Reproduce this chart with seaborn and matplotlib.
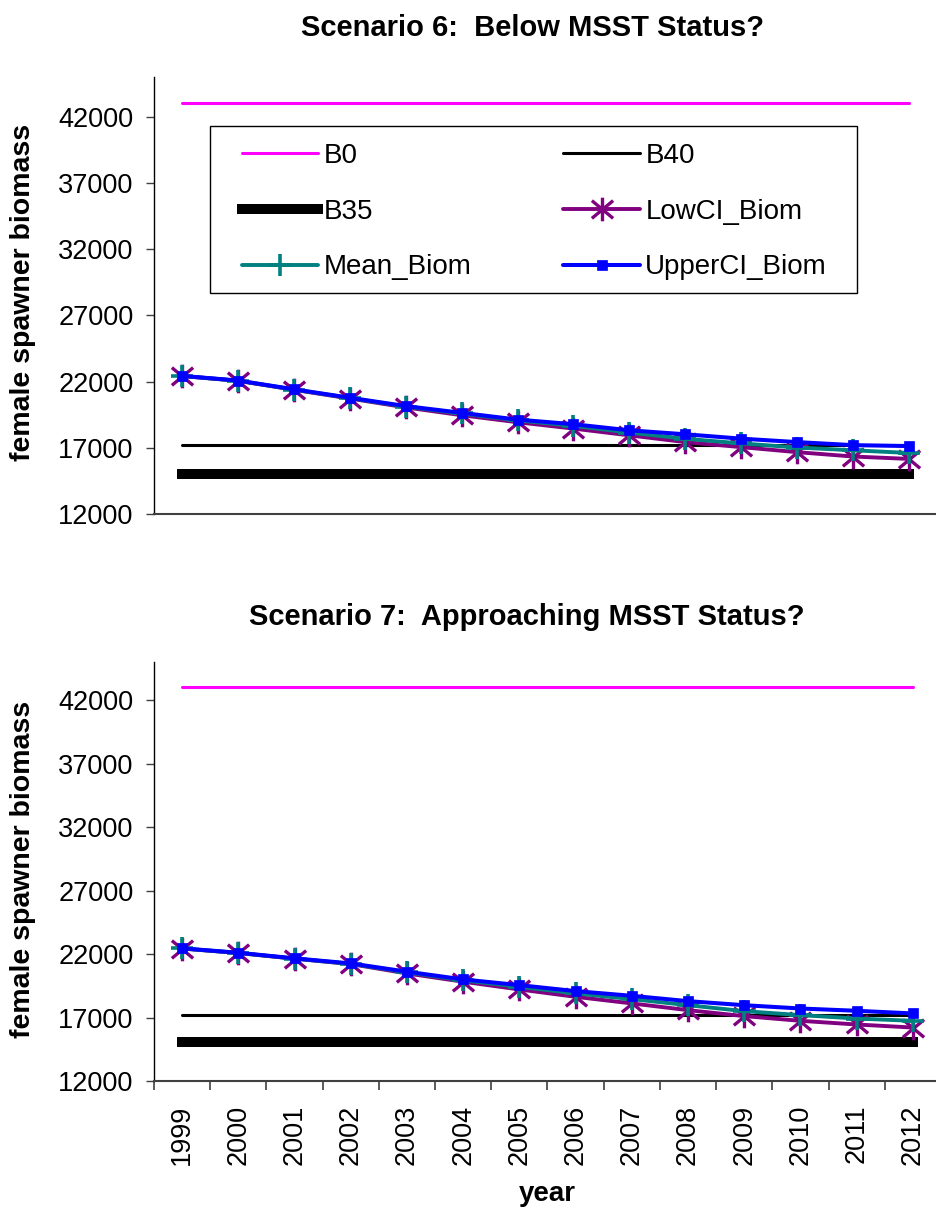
import matplotlib
matplotlib.use("Agg")
import numpy as np
import matplotlib.pyplot as plt
from matplotlib.path import Path
from matplotlib.patches import Rectangle
import seaborn as sns

# ---------------- data ----------------
years = [1999, 2000, 2001, 2002, 2003, 2004, 2005, 2006, 2007, 2008, 2009, 2010, 2011, 2012]
year_labels = [str(y) for y in years]

B0 = [43000, 43000, 43000, 43000, 43000, 43000, 43000, 43000, 43000, 43000, 43000, 43000, 43000, 43000]
B40 = [17200, 17200, 17200, 17200, 17200, 17200, 17200, 17200, 17200, 17200, 17200, 17200, 17200, 17200]
B35 = [15050, 15050, 15050, 15050, 15050, 15050, 15050, 15050, 15050, 15050, 15050, 15050, 15050, 15050]

# Scenario 6
low6 = [22420, 22060, 21380, 20720, 20050, 19460, 18930, 18450, 17940, 17430, 17050, 16670, 16340, 16160]
mean6 = [22420, 22070, 21400, 20760, 20110, 19590, 19070, 18660, 18150, 17680, 17330, 17020, 16810, 16610]
upper6 = [22430, 22080, 21420, 20780, 20150, 19640, 19130, 18780, 18320, 18020, 17690, 17430, 17200, 17130]

# Scenario 7
low7 = [22430, 22080, 21630, 21210, 20470, 19820, 19210, 18630, 18110, 17580, 17110, 16740, 16450, 16210]
mean7 = [22440, 22090, 21640, 21230, 20560, 19930, 19420, 18900, 18450, 17970, 17500, 17190, 16920, 16740]
upper7 = [22450, 22100, 21660, 21260, 20610, 20000, 19550, 19080, 18710, 18290, 17970, 17710, 17530, 17320]

yticks = [12000, 17000, 22000, 27000, 32000, 37000, 42000]

titles = ["Scenario 6:  Below MSST Status?", "Scenario 7:  Approaching MSST Status?"]
ylabel = "female spawner biomass"
xlabel = "year"

# ---------------- style ----------------
sns.set_style("white")
plt.rcParams["font.family"] = ["Liberation Sans", "DejaVu Sans"]
plt.rcParams["text.color"] = "black"
plt.rcParams["axes.labelcolor"] = "black"
plt.rcParams["xtick.color"] = "black"
plt.rcParams["ytick.color"] = "black"

W, H = 937, 1211
fig = plt.figure(figsize=(W / 100, H / 100), dpi=100)

def fx(px):
    return px / W

def fy(py):
    return 1 - py / H

ax1 = fig.add_axes([fx(154), fy(514), fx(937 - 154), (514 - 77) / H])
ax2 = fig.add_axes([fx(154), fy(1081), fx(941 - 154), (1081 - 662) / H])

ASTERISK = Path(
    [(0, -1), (0, 1), (-0.9, -0.75), (0.9, 0.75), (-0.9, 0.75), (0.9, -0.75)],
    [Path.MOVETO, Path.LINETO, Path.MOVETO, Path.LINETO, Path.MOVETO, Path.LINETO],
)

C_B0 = "#FF00FF"
C_LOW = "#800080"
C_MEAN = "#008080"
C_UP = "#0000FF"
AX_GRAY = "#404040"


def draw(ax, low, mean, upper):
    sns.lineplot(x=years, y=B0, ax=ax, color=C_B0, linewidth=2.2, label="B0", legend=False)
    sns.lineplot(x=years, y=B40, ax=ax, color="black", linewidth=2.2, label="B40", legend=False)
    sns.lineplot(x=years, y=B35, ax=ax, color="black", linewidth=7.2,
                 solid_capstyle="projecting", label="B35", legend=False)
    sns.lineplot(x=years, y=low, ax=ax, color=C_LOW, linewidth=2.8, marker=ASTERISK,
                 markersize=17, markeredgecolor=C_LOW, markerfacecolor="none",
                 markeredgewidth=2.4, label="LowCI_Biom", legend=False)
    sns.lineplot(x=years, y=mean, ax=ax, color=C_MEAN, linewidth=2.8, marker="+",
                 markersize=16, markeredgecolor=C_MEAN, markeredgewidth=2.6,
                 label="Mean_Biom", legend=False)
    sns.lineplot(x=years, y=upper, ax=ax, color=C_UP, linewidth=2.9, marker="s",
                 markersize=7.5, markeredgecolor=C_UP, markerfacecolor=C_UP,
                 markeredgewidth=0.5, label="UpperCI_Biom", legend=False)

    ax.set_xlim(years[0] - 0.5, years[-1] + 0.5)
    ax.set_ylim(12000, 45000)
    ax.set_yticks(yticks)
    ax.set_xlabel("")
    ax.set_ylabel("")
    sns.despine(ax=ax)
    ax.spines["left"].set_color("black")
    ax.spines["left"].set_linewidth(1.0)
    ax.spines["bottom"].set_color(AX_GRAY)
    ax.spines["bottom"].set_linewidth(1.5)
    ax.tick_params(axis="y", which="major", direction="out", length=5.8, width=1.0,
                   color=AX_GRAY, pad=9, labelsize=19.5, left=True, labelcolor="black")
    ax.grid(False)


draw(ax1, low6, mean6, upper6)
draw(ax2, low7, mean7, upper7)

# top chart: no x ticks
ax1.set_xticks([])

# bottom chart: category labels, boundary tick marks
ax2.set_xticks(years)
ax2.set_xticklabels(year_labels, rotation=90)
ax2.set_xticks(np.array(years[:1] + years) + np.r_[-0.5, np.full(len(years), 0.5)], minor=True)
ax2.tick_params(axis="x", which="major", length=0, pad=17, labelsize=19.5, bottom=True,
                labelcolor="black")
ax2.tick_params(axis="x", which="minor", direction="out", length=6.5, width=1.2,
                color=AX_GRAY, bottom=True)

# legend on the top chart
lines = ax1.get_lines()
order = [0, 2, 4, 1, 3, 5]
handles = [lines[i] for i in order]
labels = [lines[i].get_label() for i in order]
frame = Rectangle((fx(210), fy(293)), (857 - 210) / W, (293 - 126) / H,
                  transform=fig.transFigure, facecolor="white", edgecolor="black",
                  linewidth=1.0, zorder=4, clip_on=False)
ax1.add_patch(frame)
leg = ax1.legend(handles, labels, ncol=2, loc="upper left",
                 bbox_to_anchor=(fx(228), fy(129)), bbox_transform=fig.transFigure,
                 frameon=False, borderpad=0, fontsize=20, handlelength=2.75,
                 handletextpad=0.2, columnspacing=3.3, labelspacing=1.07)
leg.set_zorder(5)
for t in leg.get_texts():
    t.set_color("black")

# titles and axis labels
fig.text(fx(533), fy(36), titles[0], ha="center", va="baseline", fontsize=21,
         fontweight="bold", color="black")
fig.text(fx(527), fy(625), titles[1], ha="center", va="baseline", fontsize=21,
         fontweight="bold", color="black")
fig.text(fx(23), fy(292.5), ylabel, rotation=90, ha="center", va="center",
         fontsize=20.5, fontweight="bold", color="black")
fig.text(fx(23), fy(869), ylabel, rotation=90, ha="center", va="center",
         fontsize=20.5, fontweight="bold", color="black")
fig.text(fx(547), fy(1201), xlabel, ha="center", va="baseline", fontsize=20,
         fontweight="bold", color="black")

fig.savefig("out.png", dpi=100)
